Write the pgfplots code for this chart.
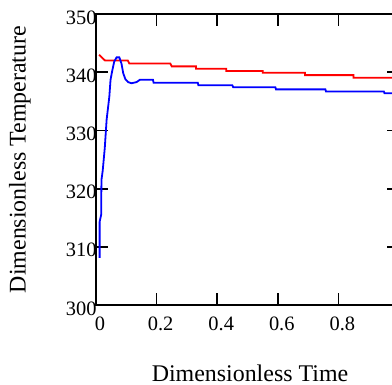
\documentclass[border=0pt]{standalone}
\usepackage{pgfplots}
\pgfplotsset{compat=1.18}
\usepackage{fontspec}
\setmainfont{Liberation Serif}
\begin{document}
\begin{tikzpicture}
\begin{axis}[
  at={(0,0)}, anchor=south west,
  scale only axis,
  width=303bp, height=291bp,
  xmin=0, xmax=1, ymin=300, ymax=350,
  xtick={0,0.2,0.4,0.6,0.8},
  xticklabels={0,0.2,0.4,0.6,0.8},
  ytick={300,310,320,330,340,350},
  tick align=inside,
  xtick pos=both, ytick pos=both,
  major tick length=12bp,
  axis line style={line width=1.8bp},
  every tick/.style={black, line width=1.8bp},
  /pgf/number format/assume math mode=true,
  tick label style={font=\fontsize{20.5}{24}\selectfont},
  xticklabel style={yshift=-8bp, xshift=4bp},
  yticklabel style={xshift=4bp, yshift=-3.5bp},
  xlabel={Dimensionless Time},
  ylabel={Dimensionless Temperature},
  label style={font=\fontsize{24}{28}\selectfont},
  xlabel style={at={(rel axis cs:0.5,0)}, anchor=base, yshift=-76bp, xshift=2.5bp},
  ylabel style={at={(rel axis cs:0,0.5)}, anchor=center, rotate=0, yshift=76bp},
]
\addplot[red, line width=1.8bp] coordinates {
(0.01,343.0) (0.02,342.5) (0.03,342.0) (0.105,342.0) (0.11,341.5) (0.245,341.5)
(0.25,341.0) (0.33,341.0) (0.33,340.6) (0.43,340.6) (0.43,340.2) (0.55,340.2)
(0.55,339.9) (0.69,339.9) (0.69,339.5) (0.85,339.5) (0.85,339.05) (1.0,339.05)
};
\addplot[blue, line width=1.8bp] coordinates {
(0.012,308.1) (0.012,314.3) (0.017,315.5) (0.018,321.5) (0.022,323) (0.029,327)
(0.035,331.8) (0.044,335.8) (0.048,338.7) (0.053,340.1) (0.06,341.8) (0.068,342.55)
(0.077,342.55) (0.084,341.5) (0.09,339.8) (0.097,338.8) (0.106,338.3) (0.117,338.1)
(0.134,338.3) (0.145,338.7) (0.188,338.7) (0.19,338.2) (0.336,338.2) (0.338,337.75)
(0.45,337.75) (0.453,337.4) (0.592,337.4) (0.594,337.05) (0.757,337.05) (0.759,336.7)
(0.95,336.7) (0.952,336.4) (1.0,336.4)
};
\end{axis}
\pgfresetboundingbox
\useasboundingbox (-96bp,-80bp) rectangle (296bp,305bp);
\end{tikzpicture}
\end{document}
